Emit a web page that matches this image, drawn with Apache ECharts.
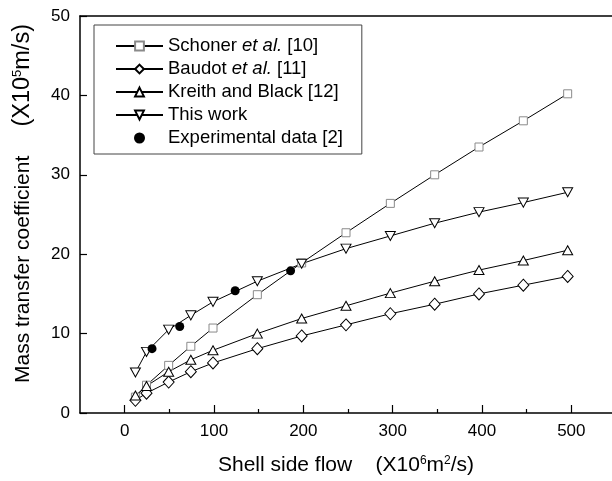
<!DOCTYPE html>
<html>
<head>
<meta charset="utf-8">
<script src="https://cdn.jsdelivr.net/npm/echarts@6/dist/echarts.min.js"></script>
<style>
  html, body { margin: 0; background: #fff; }
  #chart { width: 612px; height: 481px; }
</style>
</head>
<body>
<div id="chart"></div>
<script>
// shell side flow (X10^6 m2/s) and mass transfer coefficient (X10^5 m/s)
const flow = [12.5, 25, 50, 75, 100, 150, 200, 250, 300, 350, 400, 450, 500];
const schoner = [2.0, 3.5, 6.0, 8.4, 10.7, 14.9, 18.9, 22.7, 26.4, 30.0, 33.5, 36.8, 40.2];
const baudot = [1.6, 2.5, 3.9, 5.2, 6.3, 8.1, 9.7, 11.1, 12.5, 13.7, 15.0, 16.1, 17.2];
const kreith = [2.2, 3.4, 5.2, 6.7, 7.9, 10.0, 11.9, 13.5, 15.1, 16.6, 18.0, 19.2, 20.5];
const thisWork = [5.1, 7.7, 10.5, 12.3, 14.0, 16.6, 18.8, 20.7, 22.3, 23.9, 25.3, 26.5, 27.8];
const expFlow = [31.25, 62.5, 125, 187.5];
const expValue = [8.1, 10.9, 15.4, 17.9];
const seriesNames = ['Schoner et al. [10]', 'Baudot et al. [11]', 'Kreith and Black [12]', 'This work', 'Experimental data [2]'];

const font = 'Liberation Sans, Arial, sans-serif';
const pairs = (xs, ys) => xs.map((x, i) => [x, ys[i]]);

const chart = echarts.init(document.getElementById('chart'));

const lineSeries = (name, data, symbol, size, border) => ({
    name: name,
    type: 'line',
    xAxisIndex: 0,
    yAxisIndex: 0,
    data: pairs(flow, data),
    symbol: symbol,
    symbolSize: size,
    showAllSymbol: true,
    lineStyle: { color: '#000', width: 1 },
    itemStyle: { color: '#fff', borderColor: border, borderWidth: 1 },
    emphasis: { disabled: true },
    z: 2
});

chart.setOption({
    animation: false,
    backgroundColor: '#fff',
    textStyle: { fontFamily: font },
    grid: [
        { left: 80, top: 16, width: 536, bottom: 68 },
        // same plot height, only 0..500 wide: carries the labelled ticks
        { left: 124.67, top: 16, width: 446.67, bottom: 68 }
    ],
    legend: {
        orient: 'vertical',
        left: 94,
        top: 25,
        padding: [11, 19, 6, 21],
        borderColor: '#444',
        borderWidth: 1,
        itemWidth: 47,
        itemHeight: 11,
        itemGap: 3,
        data: seriesNames,
        textStyle: {
            fontFamily: font,
            fontSize: 18.5,
            color: '#000',
            lineHeight: 20,
            rich: {
                i: { fontFamily: font, fontSize: 18.5, fontStyle: 'italic', color: '#000', lineHeight: 20 }
            }
        },
        formatter: function (name) {
            return name.replace('et al.', '{i|et al.}');
        }
    },
    xAxis: [
        {
            type: 'value', gridIndex: 0, min: -50, max: 550,
            position: 'bottom',
            axisLine: { show: true, onZero: false, lineStyle: { color: '#000', width: 1.5 } },
            axisTick: { show: false },
            axisLabel: { show: false },
            splitLine: { show: false },
            name: 'Shell side flow    (X10{sup|6}m{sup|2}/s)',
            nameLocation: 'middle',
            nameGap: 42,
            nameTextStyle: {
                fontFamily: font, fontSize: 21, color: '#000',
                rich: { sup: { fontFamily: font, fontSize: 12, color: '#000', verticalAlign: 'top' } }
            }
        },
        {
            type: 'value', gridIndex: 0, min: -50, max: 550,
            position: 'top',
            axisLine: { show: true, onZero: false, lineStyle: { color: '#000', width: 1.5 } },
            axisTick: { show: false },
            axisLabel: { show: false },
            splitLine: { show: false }
        },
        {
            type: 'value', gridIndex: 1, min: 0, max: 500, interval: 100,
            position: 'bottom',
            axisLine: { show: false, onZero: false },
            axisTick: { show: true, inside: true, length: 8, lineStyle: { color: '#000', width: 1.2 } },
            minorTick: { show: true, splitNumber: 2, length: 4, lineStyle: { color: '#000', width: 1.2 } },
            axisLabel: { fontFamily: font, fontSize: 17, color: '#000', margin: 10 },
            splitLine: { show: false }
        }
    ],
    yAxis: [
        {
            type: 'value', gridIndex: 0, min: 0, max: 50, interval: 10,
            position: 'left',
            axisLine: { show: true, onZero: false, lineStyle: { color: '#000', width: 1.5 } },
            axisTick: { show: true, inside: true, length: 7, lineStyle: { color: '#000', width: 1.2 } },
            axisLabel: { fontFamily: font, fontSize: 17, color: '#000', margin: 10 },
            splitLine: { show: false },
            name: 'Mass transfer coefficient     {p|(X10}{sup|5}{p|m/s)}',
            nameLocation: 'middle',
            nameGap: 45,
            nameTextStyle: {
                fontFamily: font, fontSize: 21, color: '#000',
                padding: [0, 0, 0, 22],
                rich: {
                    p: { fontFamily: font, fontSize: 23.5, color: '#000' },
                    sup: { fontFamily: font, fontSize: 13, color: '#000', verticalAlign: 'top' }
                }
            }
        },
        {
            type: 'value', gridIndex: 1, min: 0, max: 50, show: false
        }
    ],
    series: [
        lineSeries(seriesNames[0], schoner, 'rect', 8, '#8a8a8a'),
        lineSeries(seriesNames[1], baudot, 'diamond', [11, 12], '#000'),
        lineSeries(seriesNames[2], kreith, 'triangle', [10, 9], '#000'),
        lineSeries(seriesNames[3], thisWork, 'path://M0,0L10,0L5,9Z', [10, 9], '#000'),
        {
            name: seriesNames[4],
            type: 'scatter',
            xAxisIndex: 0,
            yAxisIndex: 0,
            data: pairs(expFlow, expValue),
            symbol: 'circle',
            symbolSize: 9,
            itemStyle: { color: '#000', opacity: 1 },
            emphasis: { disabled: true },
            z: 3
        }
    ]
});
</script>
</body>
</html>
